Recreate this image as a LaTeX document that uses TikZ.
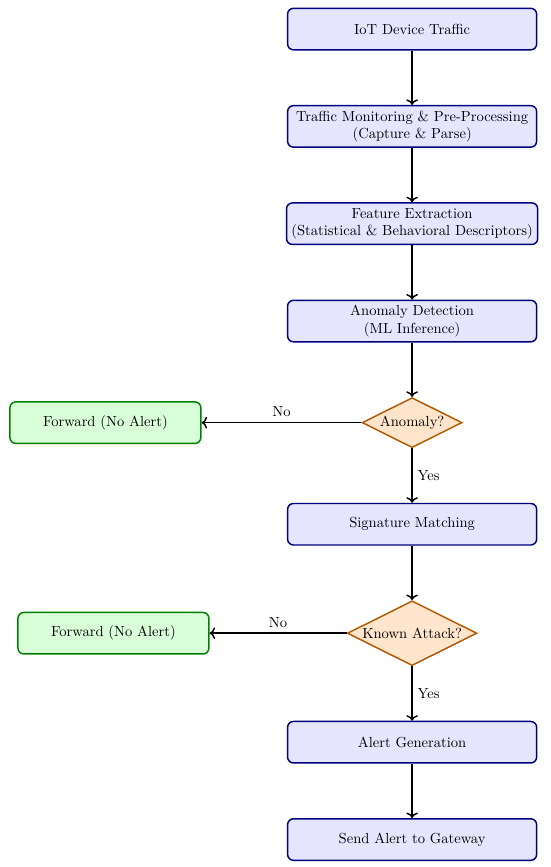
\documentclass[tikz,border=0pt]{standalone}
\usepackage{tikz}
\usetikzlibrary{arrows.meta, positioning, shapes.geometric, calc}

\begin{document}
\begin{tikzpicture}[
  stage/.style={draw=blue!50!black, fill=blue!10, rounded corners, line width=1pt, minimum width=6cm, minimum height=1cm, align=center},
  decision/.style={diamond, draw=orange!70!black, fill=orange!20, line width=1pt, aspect=2, inner sep=1pt},
  pass/.style={draw=green!50!black, fill=green!15, rounded corners, line width=1pt, minimum width=4.6cm, minimum height=1cm},
  flow/.style={->, line width=1pt},
  node distance=1.31cm
]
  \useasboundingbox (-9.93,0.70) rectangle (3.325,-20.19);

  % Main pipeline
  \node[stage] (iot) {IoT Device Traffic};
  \node[stage, below=of iot] (mon) {Traffic Monitoring \& Pre-Processing\\(Capture \& Parse)};
  \node[stage, below=of mon] (feat) {Feature Extraction\\(Statistical \& Behavioral Descriptors)};
  \node[stage, below=of feat] (det) {Anomaly Detection\\(ML Inference)};
  \node[decision, below=of det] (anom) {Anomaly?};
  \node[stage, below=of anom] (sig) {Signature Matching};
  \node[decision, below=of sig] (known) {Known Attack?};
  \node[stage, below=of known] (alert) {Alert Generation};
  \node[stage, below=of alert] (send) {Send Alert to Gateway};

  % Benign exits
  \node[pass, left=3.85cm of anom] (fwdA) {Forward (No Alert)};
  \node[pass, left=3.3cm of known] (fwdB) {Forward (No Alert)};

  % Arrows
  \draw[flow] (iot) -- (mon);
  \draw[flow] (mon) -- (feat);
  \draw[flow] (feat) -- (det);
  \draw[flow] (det) -- (anom);
  \draw[flow] (anom) -- node[right] {Yes} (sig);
  \draw[flow] (anom) -- node[above] {No} (fwdA);
  \draw[flow] (sig) -- (known);
  \draw[flow] (known) -- node[right] {Yes} (alert);
  \draw[flow] (known) -- node[above] {No} (fwdB);
  \draw[flow] (alert) -- (send);

\end{tikzpicture}
\end{document}
